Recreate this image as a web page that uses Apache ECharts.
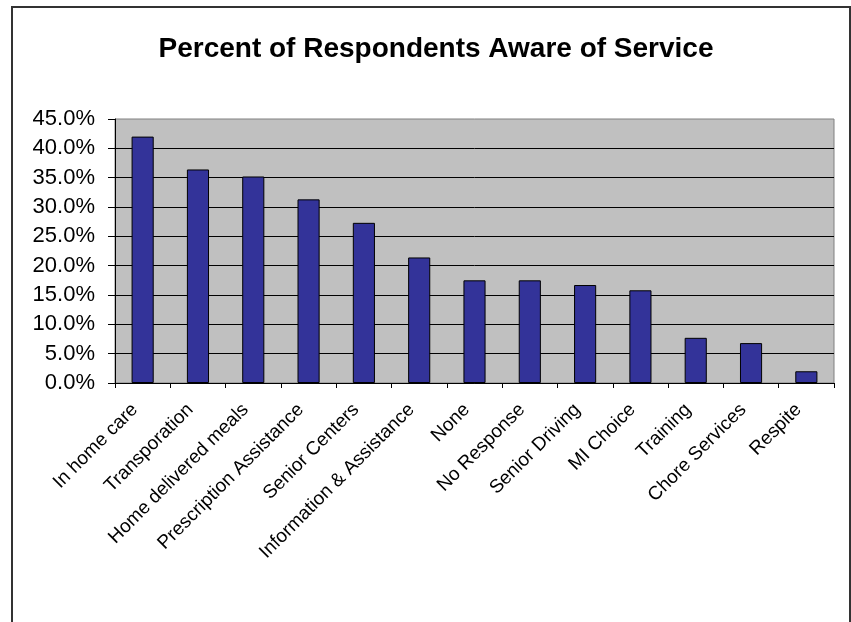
<!DOCTYPE html>
<html>
<head>
<meta charset="utf-8">
<script src="https://cdn.jsdelivr.net/npm/echarts@6/dist/echarts.min.js"></script>
<style>
html,body{margin:0;padding:0;background:#fff;}
#chart{width:851px;height:622px;}
</style>
</head>
<body>
<div id="chart"></div>
<script>
var categories = ["In home care","Transporation","Home delivered meals","Prescription Assistance","Senior Centers","Information & Assistance","None","No Response","Senior Driving","MI Choice","Training","Chore Services","Respite"];
var awareValues = [42.0, 36.4, 35.2, 31.3, 27.3, 21.4, 17.5, 17.5, 16.7, 15.8, 7.7, 6.8, 2.0];
var yTicks = {min: 0, max: 45, interval: 5};

var chart = echarts.init(document.getElementById('chart'));
var FONT = '"Liberation Sans", Arial, sans-serif';
chart.setOption({
  animation: false,
  backgroundColor: '#ffffff',
  title: {
    text: 'Percent of Respondents Aware of Service',
    left: 431, top: 30, textAlign: 'center',
    textStyle: {fontFamily: FONT, fontWeight: 'bold', fontSize: 28, color: '#000'}
  },
  graphic: [{
    type: 'rect', silent: true, z: 100,
    shape: {x: 12, y: 7, width: 838, height: 700},
    style: {fill: 'none', stroke: '#333333', lineWidth: 2}
  }],
  grid: {
    left: 115, right: 17, top: 119, bottom: 239,
    show: true, backgroundColor: '#C0C0C0', borderColor: '#808080', borderWidth: 1
  },
  xAxis: {
    type: 'category',
    data: categories,
    boundaryGap: true,
    axisLine: {lineStyle: {color: '#000', width: 1}},
    axisTick: {show: true, alignWithLabel: false, length: 5, lineStyle: {color: '#000'}},
    axisLabel: {interval: 0, rotate: 45, margin: 16, padding: [0, 11, 0, 0],
      fontFamily: FONT, fontSize: 19, color: '#000'}
  },
  yAxis: {
    type: 'value',
    min: yTicks.min, max: yTicks.max, interval: yTicks.interval,
    axisLine: {show: true, lineStyle: {color: '#000', width: 1}},
    axisTick: {show: true, length: 7, lineStyle: {color: '#000'}},
    axisLabel: {margin: 20, fontFamily: FONT, fontSize: 22, color: '#000',
      formatter: function (v) { return v.toFixed(1) + '%'; }},
    splitLine: {show: true, showMaxLine: false, lineStyle: {color: '#000', width: 1}}
  },
  series: [{
    type: 'bar',
    data: awareValues,
    barWidth: '40%',
    itemStyle: {color: '#333399', borderColor: '#000', borderWidth: 1}
  }]
});
</script>
</body>
</html>
